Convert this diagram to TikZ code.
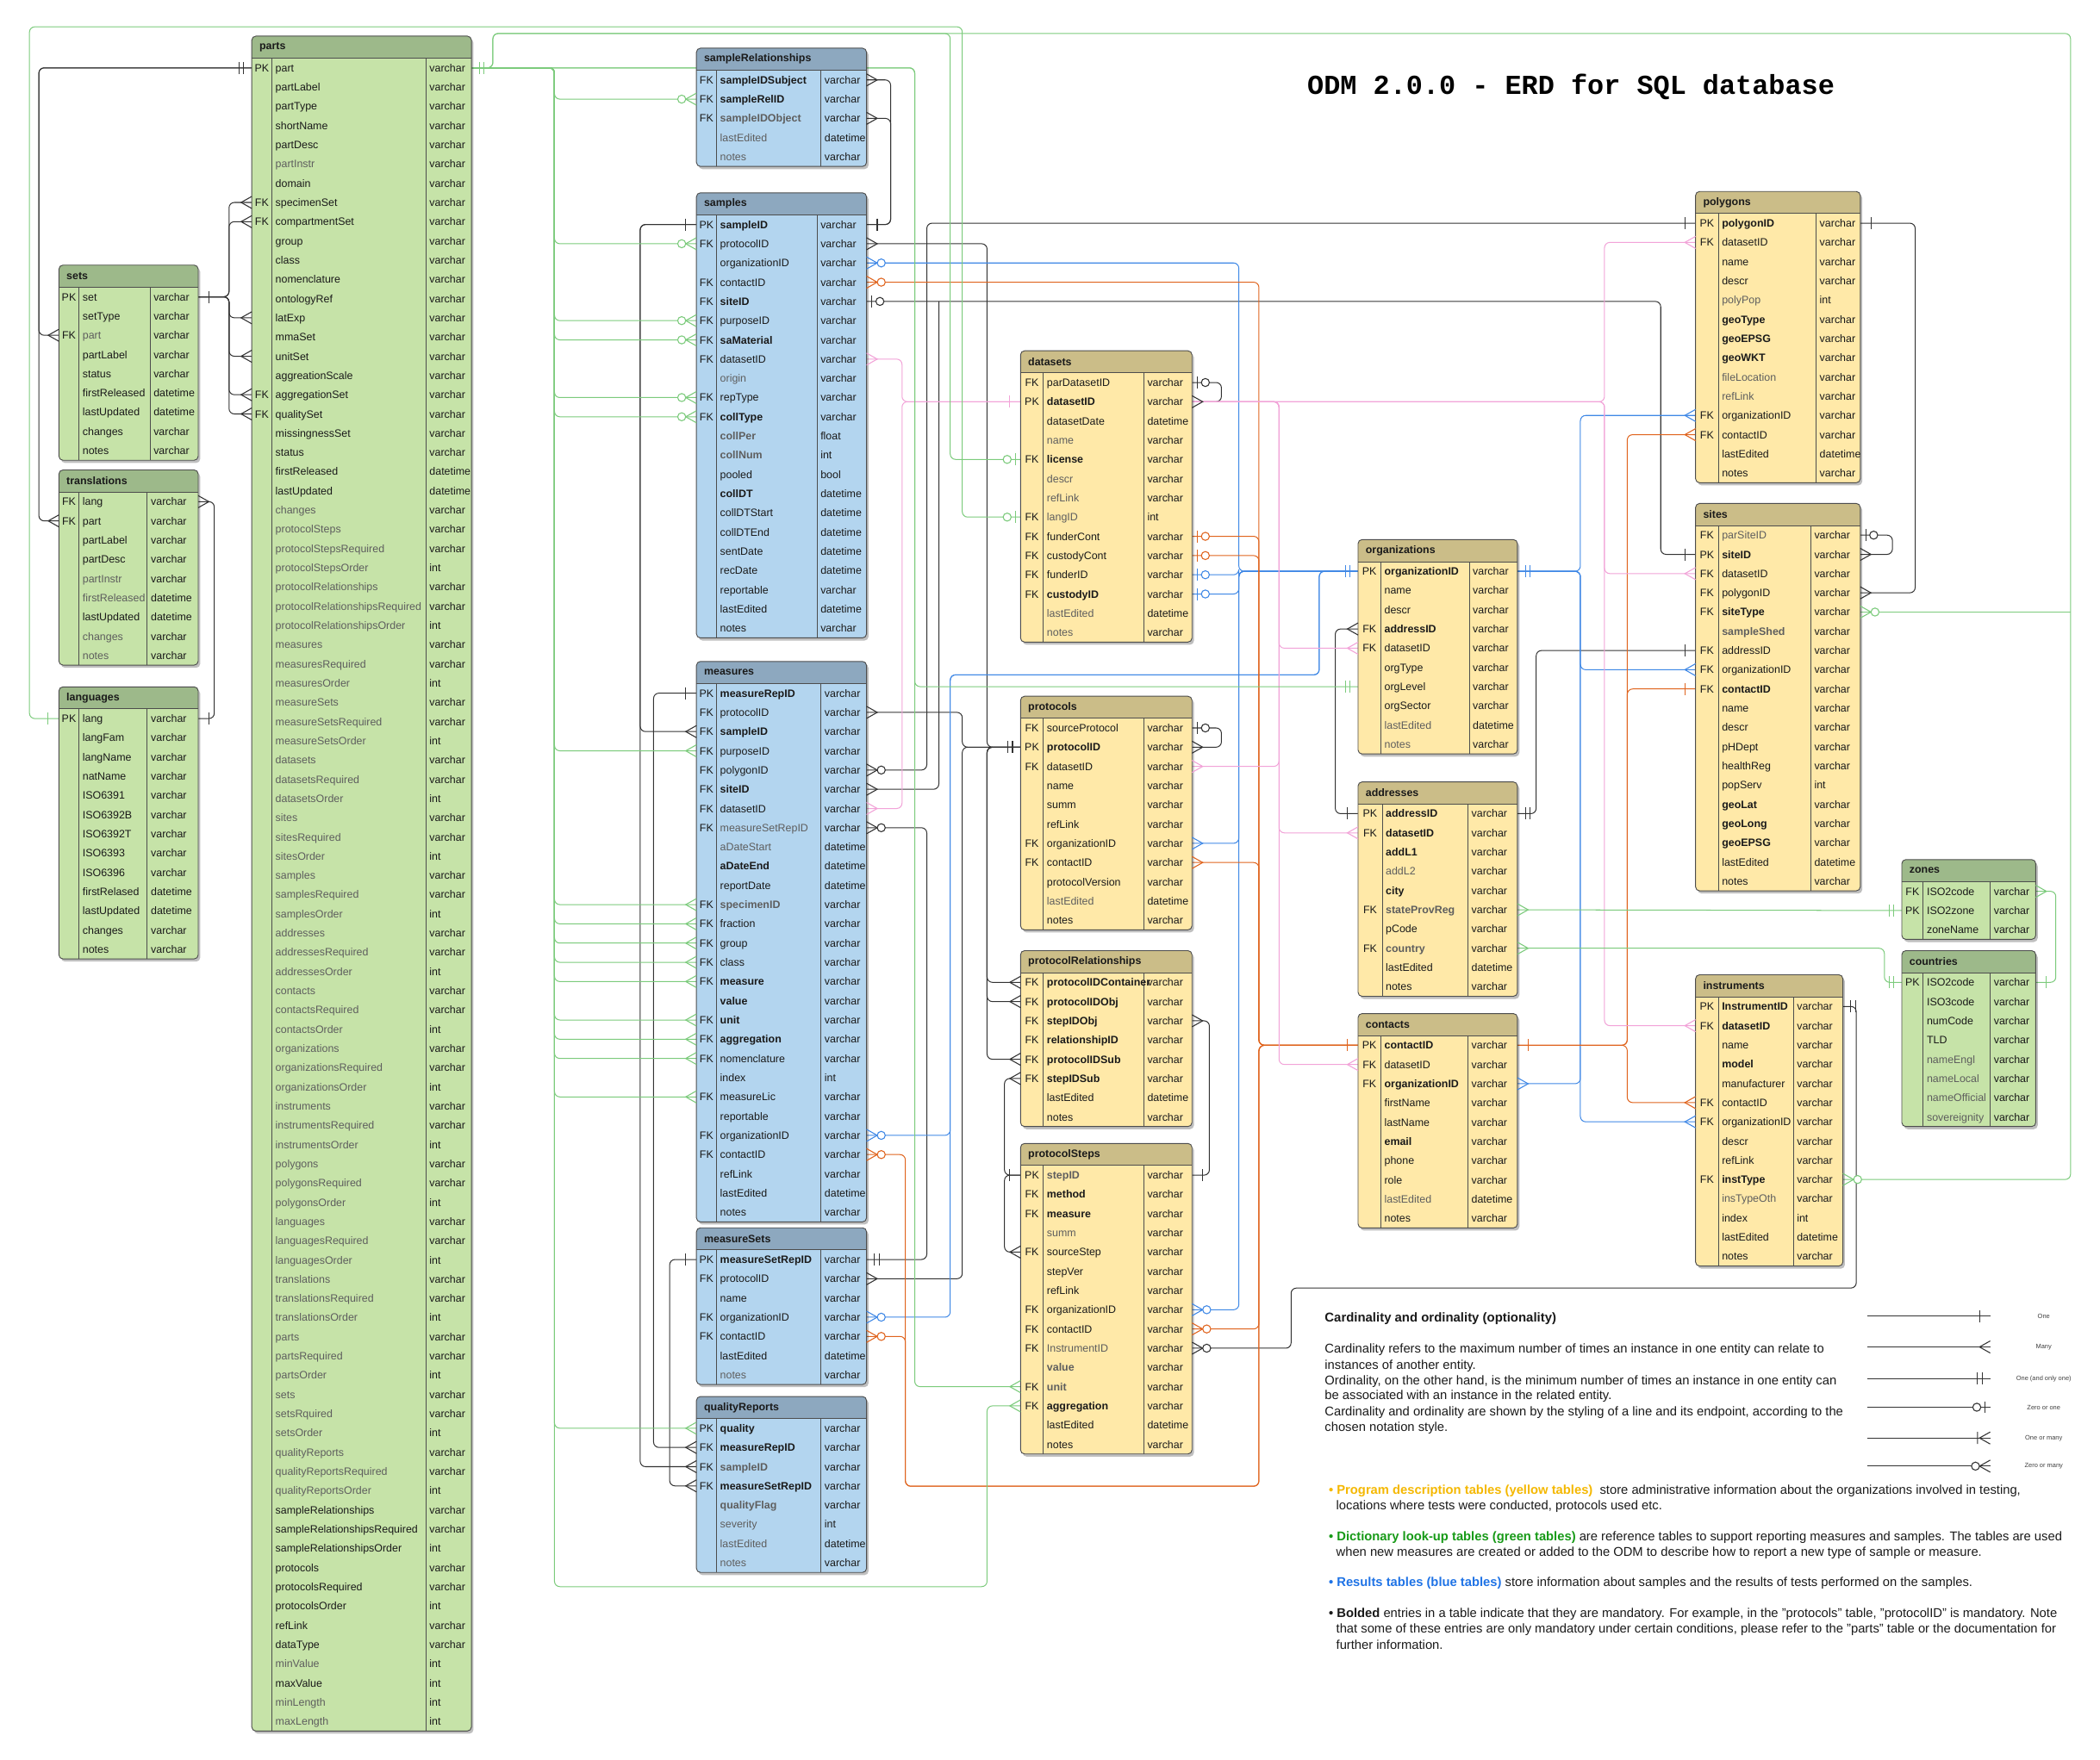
\documentclass[tikz,border=0pt]{standalone}
\usepackage{fontspec}
\setmainfont{Liberation Sans}
\newfontfamily\titlefont{Liberation Mono}
\usetikzlibrary{calc}
\pgfdeclarelayer{bg}
\pgfdeclarelayer{links}
\pgfsetlayers{bg,links,main}

% table palettes
\definecolor{gBody}{HTML}{C6E3A8}
\definecolor{gHead}{HTML}{9DB98A}
\definecolor{bBody}{HTML}{B3D5EF}
\definecolor{bHead}{HTML}{8DA8BF}
\definecolor{yBody}{HTML}{FFE9A8}
\definecolor{yHead}{HTML}{CBBD88}
\definecolor{edge}{HTML}{4D4D4D}
\definecolor{txt}{HTML}{1A1A1A}
\definecolor{txtg}{HTML}{5E5E5E}
% connector colours
\definecolor{lnGreen}{HTML}{7CCB7C}
\definecolor{lnBlue}{HTML}{3F88E6}
\definecolor{lnOrange}{HTML}{E0641E}
\definecolor{lnPink}{HTML}{F2A3D8}
\definecolor{lnBlack}{HTML}{333333}
% legend colours
\definecolor{cYel}{HTML}{F5B800}
\definecolor{cGrn}{HTML}{179A17}
\definecolor{cBlu}{HTML}{1F73E6}

\tikzset{
  rowbase/.style={anchor=base west,inner sep=0pt,font=\fontsize{8}{9}\selectfont},
  rn/.style={rowbase,text=txt},
  rb/.style={rowbase,text=txt,font=\fontsize{8}{9}\selectfont\bfseries},
  rg/.style={rowbase,text=txtg},
  rh/.style={rowbase,text=txtg,font=\fontsize{8}{9}\selectfont\bfseries},
  typtxt/.style={rowbase,text=txt},
  keytxt/.style={anchor=base,inner sep=0pt,font=\fontsize{8}{9}\selectfont,text=txt},
  hdtxt/.style={anchor=west,inner sep=0pt,font=\fontsize{8}{9}\selectfont\bfseries,text=txt},
  tline/.style={draw=edge,line width=.6pt},
  cn/.style={draw=lnBlack,line width=.65pt,rounded corners=4pt},
  cg/.style={cn,draw=lnGreen},
  cb/.style={cn,draw=lnBlue},
  co/.style={cn,draw=lnOrange},
  cp/.style={cn,draw=lnPink},
  mk/.style={line width=.7pt},
  pics/crow/.style={code={\draw[mk] (0,-4.5)--(8,0)--(0,4.5);}},
  pics/one/.style={code={\draw[mk] (8,-4.5)--(8,4.5);}},
  pics/oneonly/.style={code={\draw[mk] (6,-4.5)--(6,4.5) (9.5,-4.5)--(9.5,4.5);}},
  pics/zeromany/.style={code={\draw[mk] (0,-4.5)--(8,0)--(0,4.5); \draw[mk,fill=white] (11,0) circle[radius=3pt];}},
  pics/onemany/.style={code={\draw[mk] (0,-4.5)--(8,0)--(0,4.5) (9.5,-4.5)--(9.5,4.5);}},
  pics/zeroone/.style={code={\draw[mk] (4,-4.5)--(4,4.5); \draw[mk,fill=white] (10,0) circle[radius=3pt];}},
  lgtxt/.style={anchor=west,inner sep=0pt,font=\fontsize{9.5}{11}\selectfont,text=txt},
  lgsmall/.style={inner sep=0pt,font=\fontsize{4.8}{5}\selectfont,text=black!75},
}

\def\erdhd{16.5}
\def\erdrw{14.36}

% #1 id, #2 x, #3 y, #4 key column, #5 name column, #6 type column,
% #7 palette (g/b/y), #8 title, #9 rows key/name/type/style
\newcommand\erdtable[9]{%
  \def\erdn{0}%
  \foreach \erK/\erN/\erT/\erS [count=\erI] in {#9} {\xdef\erdn{\erI}}%
  \pgfmathsetmacro\erdw{#4+#5+#6}%
  \pgfmathsetmacro\erdh{\erdhd+\erdn*\erdrw}%
  \fill[black,opacity=.25,rounded corners=3pt] (#2+1.5,#3+2) rectangle ++(\erdw,\erdh);
  \fill[#7Body,rounded corners=3pt] (#2,#3) rectangle ++(\erdw,\erdh);
  \begin{scope}
    \clip[rounded corners=3pt] (#2,#3) rectangle ++(\erdw,\erdh);
    \fill[#7Head] (#2,#3) rectangle ++(\erdw,\erdhd);
  \end{scope}
  \draw[tline] (#2,#3+\erdhd) -- ++(\erdw,0);
  \draw[tline] (#2+#4,#3+\erdhd) -- ++(0,\erdh-\erdhd);
  \draw[tline] (#2+#4+#5,#3+\erdhd) -- ++(0,\erdh-\erdhd);
  \draw[tline,rounded corners=3pt] (#2,#3) rectangle ++(\erdw,\erdh);
  \node[hdtxt] at (#2+5.5,#3+\erdhd/2) {#8};
  \foreach \erK/\erN/\erT/\erS [count=\erI] in {#9} {
    \pgfmathsetmacro\erY{#3+\erdhd+(\erI-0.5)*\erdrw}
    \node[keytxt] at (#2+#4/2,\erY+2.9) {\erK};
    \node[\erS] at (#2+#4+2.5,\erY+2.9) {\erN};
    \node[typtxt] at (#2+#4+#5+2.5,\erY+2.9) {\erT};
    \coordinate (#1-\erI-w) at (#2,\erY);
    \coordinate (#1-\erI-e) at (#2+\erdw,\erY);
  }%
}
\newcommand\mE[3]{\pic[color=#3] at (#2) {#1};}
\newcommand\mW[3]{\pic[color=#3,xscale=-1] at (#2) {#1};}

\begin{document}
\begin{tikzpicture}[x=1pt,y=-1pt]
\begin{pgfonlayer}{bg}
  \fill[white] (0,0) rectangle (1568,1314);
\end{pgfonlayer}
\useasboundingbox (0,0) rectangle (1568,1314);

\node[font=\titlefont\bfseries\fontsize{20.5}{24}\selectfont,text=black] (title) at (1173,65) {ODM 2.0.0 - ERD for SQL database};

% ---------------- dictionary tables (green)
\erdtable{parts}{188}{27}{15}{115}{34}{g}{parts}{PK/part/varchar/rn,
/partLabel/varchar/rn,
/partType/varchar/rn,
/shortName/varchar/rn,
/partDesc/varchar/rn,
/partInstr/varchar/rg,
/domain/varchar/rn,
FK/specimenSet/varchar/rn,
FK/compartmentSet/varchar/rn,
/group/varchar/rn,
/class/varchar/rn,
/nomenclature/varchar/rn,
/ontologyRef/varchar/rn,
/latExp/varchar/rn,
/mmaSet/varchar/rn,
/unitSet/varchar/rn,
/aggreationScale/varchar/rn,
FK/aggregationSet/varchar/rn,
FK/qualitySet/varchar/rn,
/missingnessSet/varchar/rn,
/status/varchar/rn,
/firstReleased/datetime/rn,
/lastUpdated/datetime/rn,
/changes/varchar/rg,
/protocolSteps/varchar/rg,
/protocolStepsRequired/varchar/rg,
/protocolStepsOrder/int/rg,
/protocolRelationships/varchar/rg,
/protocolRelationshipsRequired/varchar/rg,
/protocolRelationshipsOrder/int/rg,
/measures/varchar/rg,
/measuresRequired/varchar/rg,
/measuresOrder/int/rg,
/measureSets/varchar/rg,
/measureSetsRequired/varchar/rg,
/measureSetsOrder/int/rg,
/datasets/varchar/rg,
/datasetsRequired/varchar/rg,
/datasetsOrder/int/rg,
/sites/varchar/rg,
/sitesRequired/varchar/rg,
/sitesOrder/int/rg,
/samples/varchar/rg,
/samplesRequired/varchar/rg,
/samplesOrder/int/rg,
/addresses/varchar/rg,
/addressesRequired/varchar/rg,
/addressesOrder/int/rg,
/contacts/varchar/rg,
/contactsRequired/varchar/rg,
/contactsOrder/int/rg,
/organizations/varchar/rg,
/organizationsRequired/varchar/rg,
/organizationsOrder/int/rg,
/instruments/varchar/rg,
/instrumentsRequired/varchar/rg,
/instrumentsOrder/int/rg,
/polygons/varchar/rg,
/polygonsRequired/varchar/rg,
/polygonsOrder/int/rg,
/languages/varchar/rg,
/languagesRequired/varchar/rg,
/languagesOrder/int/rg,
/translations/varchar/rg,
/translationsRequired/varchar/rg,
/translationsOrder/int/rg,
/parts/varchar/rg,
/partsRequired/varchar/rg,
/partsOrder/int/rg,
/sets/varchar/rg,
/setsRquired/varchar/rg,
/setsOrder/int/rg,
/qualityReports/varchar/rg,
/qualityReportsRequired/varchar/rg,
/qualityReportsOrder/int/rg,
/sampleRelationships/varchar/rn,
/sampleRelationshipsRequired/varchar/rn,
/sampleRelationshipsOrder/int/rn,
/protocols/varchar/rn,
/protocolsRequired/varchar/rn,
/protocolsOrder/int/rn,
/refLink/varchar/rn,
/dataType/varchar/rn,
/minValue/int/rg,
/maxValue/int/rn,
/minLength/int/rg,
/maxLength/int/rg}

\erdtable{sets}{44}{198}{15}{53}{36}{g}{sets}{PK/set/varchar/rn,
/setType/varchar/rn,
FK/part/varchar/rg,
/partLabel/varchar/rn,
/status/varchar/rn,
/firstReleased/datetime/rn,
/lastUpdated/datetime/rn,
/changes/varchar/rn,
/notes/varchar/rn}

\erdtable{transl}{44}{351}{15}{51}{38}{g}{translations}{FK/lang/varchar/rn,
FK/part/varchar/rn,
/partLabel/varchar/rn,
/partDesc/varchar/rn,
/partInstr/varchar/rg,
/firstReleased/datetime/rg,
/lastUpdated/datetime/rn,
/changes/varchar/rg,
/notes/varchar/rg}

\erdtable{langs}{44}{513}{15}{51}{38}{g}{languages}{PK/lang/varchar/rn,
/langFam/varchar/rn,
/langName/varchar/rn,
/natName/varchar/rn,
/ISO6391/varchar/rn,
/ISO6392B/varchar/rn,
/ISO6392T/varchar/rn,
/ISO6393/varchar/rn,
/ISO6396/varchar/rn,
/firstRelased/datetime/rn,
/lastUpdated/datetime/rn,
/changes/varchar/rn,
/notes/varchar/rn}

\erdtable{zones}{1420}{642}{16}{50}{34}{g}{zones}{FK/ISO2code/varchar/rn,
PK/ISO2zone/varchar/rn,
/zoneName/varchar/rn}

\erdtable{ctry}{1420}{710}{16}{50}{34}{g}{countries}{PK/ISO2code/varchar/rn,
/ISO3code/varchar/rn,
/numCode/varchar/rn,
/TLD/varchar/rn,
/nameEngl/varchar/rg,
/nameLocal/varchar/rg,
/nameOfficial/varchar/rg,
/sovereignity/varchar/rg}

% ---------------- results tables (blue)
\erdtable{srel}{520}{36}{15}{78}{34}{b}{sampleRelationships}{FK/sampleIDSubject/varchar/rb,
FK/sampleRelID/varchar/rb,
FK/sampleIDObject/varchar/rh,
/lastEdited/datetime/rg,
/notes/varchar/rg}

\erdtable{samples}{520}{144}{15}{75}{37}{b}{samples}{PK/sampleID/varchar/rb,
FK/protocolID/varchar/rn,
/organizationID/varchar/rn,
FK/contactID/varchar/rn,
FK/siteID/varchar/rb,
FK/purposeID/varchar/rn,
FK/saMaterial/varchar/rb,
FK/datasetID/varchar/rn,
/origin/varchar/rg,
FK/repType/varchar/rn,
FK/collType/varchar/rb,
/collPer/float/rh,
/collNum/int/rh,
/pooled/bool/rn,
/collDT/datetime/rb,
/collDTStart/datetime/rn,
/collDTEnd/datetime/rn,
/sentDate/datetime/rn,
/recDate/datetime/rn,
/reportable/varchar/rn,
/lastEdited/datetime/rn,
/notes/varchar/rn}

\erdtable{meas}{520}{494}{15}{78}{34}{b}{measures}{PK/measureRepID/varchar/rb,
FK/protocolID/varchar/rn,
FK/sampleID/varchar/rb,
FK/purposeID/varchar/rn,
FK/polygonID/varchar/rn,
FK/siteID/varchar/rb,
FK/datasetID/varchar/rn,
FK/measureSetRepID/varchar/rg,
/aDateStart/datetime/rg,
/aDateEnd/datetime/rb,
/reportDate/datetime/rn,
FK/specimenID/varchar/rh,
FK/fraction/varchar/rn,
FK/group/varchar/rn,
FK/class/varchar/rn,
FK/measure/varchar/rb,
/value/varchar/rb,
FK/unit/varchar/rb,
FK/aggregation/varchar/rb,
FK/nomenclature/varchar/rn,
/index/int/rn,
FK/measureLic/varchar/rn,
/reportable/varchar/rn,
FK/organizationID/varchar/rn,
FK/contactID/varchar/rn,
/refLink/varchar/rn,
/lastEdited/datetime/rn,
/notes/varchar/rn}

\erdtable{msets}{520}{917}{15}{78}{34}{b}{measureSets}{PK/measureSetRepID/varchar/rb,
FK/protocolID/varchar/rn,
/name/varchar/rn,
FK/organizationID/varchar/rn,
FK/contactID/varchar/rn,
/lastEdited/datetime/rn,
/notes/varchar/rg}

\erdtable{qrep}{520}{1043}{15}{78}{34}{b}{qualityReports}{PK/quality/varchar/rb,
FK/measureRepID/varchar/rb,
FK/sampleID/varchar/rh,
FK/measureSetRepID/varchar/rb,
/qualityFlag/varchar/rh,
/severity/int/rg,
/lastEdited/datetime/rg,
/notes/varchar/rg}

% ---------------- program description tables (yellow)
\erdtable{dsets}{762}{262}{17}{75}{36}{y}{datasets}{FK/parDatasetID/varchar/rn,
PK/datasetID/varchar/rb,
/datasetDate/datetime/rn,
/name/varchar/rg,
FK/license/varchar/rb,
/descr/varchar/rg,
/refLink/varchar/rg,
FK/langID/int/rg,
FK/funderCont/varchar/rn,
FK/custodyCont/varchar/rn,
FK/funderID/varchar/rn,
FK/custodyID/varchar/rb,
/lastEdited/datetime/rg,
/notes/varchar/rg}

\erdtable{prot}{762}{520}{17}{75}{36}{y}{protocols}{FK/sourceProtocol/varchar/rn,
PK/protocolID/varchar/rb,
FK/datasetID/varchar/rn,
/name/varchar/rn,
/summ/varchar/rn,
/refLink/varchar/rn,
FK/organizationID/varchar/rn,
FK/contactID/varchar/rn,
/protocolVersion/varchar/rn,
/lastEdited/datetime/rg,
/notes/varchar/rn}

\erdtable{prel}{762}{710}{17}{75}{36}{y}{protocolRelationships}{FK/protocolIDContainer/varchar/rb,
FK/protocolIDObj/varchar/rb,
FK/stepIDObj/varchar/rb,
FK/relationshipID/varchar/rb,
FK/protocolIDSub/varchar/rb,
FK/stepIDSub/varchar/rb,
/lastEdited/datetime/rn,
/notes/varchar/rn}

\erdtable{psteps}{762}{854}{17}{75}{36}{y}{protocolSteps}{PK/stepID/varchar/rh,
FK/method/varchar/rb,
FK/measure/varchar/rb,
/summ/varchar/rg,
FK/sourceStep/varchar/rn,
/stepVer/varchar/rn,
/refLink/varchar/rn,
FK/organizationID/varchar/rn,
FK/contactID/varchar/rn,
FK/InstrumentID/varchar/rg,
/value/varchar/rh,
FK/unit/varchar/rh,
FK/aggregation/varchar/rb,
/lastEdited/datetime/rn,
/notes/varchar/rn}

\erdtable{orgs}{1014}{403}{17}{66}{36}{y}{organizations}{PK/organizationID/varchar/rb,
/name/varchar/rn,
/descr/varchar/rn,
FK/addressID/varchar/rb,
FK/datasetID/varchar/rn,
/orgType/varchar/rn,
/orgLevel/varchar/rn,
/orgSector/varchar/rn,
/lastEdited/datetime/rg,
/notes/varchar/rg}

\erdtable{addr}{1014}{584}{18}{64}{37}{y}{addresses}{PK/addressID/varchar/rb,
FK/datasetID/varchar/rb,
/addL1/varchar/rb,
/addL2/varchar/rg,
/city/varchar/rb,
FK/stateProvReg/varchar/rh,
/pCode/varchar/rn,
FK/country/varchar/rh,
/lastEdited/datetime/rn,
/notes/varchar/rn}

\erdtable{cont}{1014}{757}{17}{65}{37}{y}{contacts}{PK/contactID/varchar/rb,
FK/datasetID/varchar/rn,
FK/organizationID/varchar/rb,
/firstName/varchar/rn,
/lastName/varchar/rn,
/email/varchar/rb,
/phone/varchar/rn,
/role/varchar/rn,
/lastEdited/datetime/rg,
/notes/varchar/rn}

\erdtable{poly}{1266}{143}{17}{73}{33}{y}{polygons}{PK/polygonID/varchar/rb,
FK/datasetID/varchar/rn,
/name/varchar/rn,
/descr/varchar/rn,
/polyPop/int/rg,
/geoType/varchar/rb,
/geoEPSG/varchar/rb,
/geoWKT/varchar/rb,
/fileLocation/varchar/rg,
/refLink/varchar/rg,
FK/organizationID/varchar/rn,
FK/contactID/varchar/rn,
/lastEdited/datetime/rn,
/notes/varchar/rn}

\erdtable{sites}{1266}{376}{17}{69}{37}{y}{sites}{FK/parSiteID/varchar/rg,
PK/siteID/varchar/rb,
FK/datasetID/varchar/rn,
FK/polygonID/varchar/rn,
FK/siteType/varchar/rb,
/sampleShed/varchar/rh,
FK/addressID/varchar/rn,
FK/organizationID/varchar/rn,
FK/contactID/varchar/rb,
/name/varchar/rn,
/descr/varchar/rn,
/pHDept/varchar/rn,
/healthReg/varchar/rn,
/popServ/int/rn,
/geoLat/varchar/rb,
/geoLong/varchar/rb,
/geoEPSG/varchar/rb,
/lastEdited/datetime/rn,
/notes/varchar/rn}

\erdtable{inst}{1266}{728}{17}{56}{37}{y}{instruments}{PK/InstrumentID/varchar/rb,
FK/datasetID/varchar/rb,
/name/varchar/rn,
/model/varchar/rb,
/manufacturer/varchar/rn,
FK/contactID/varchar/rn,
FK/organizationID/varchar/rn,
/descr/varchar/rn,
/refLink/varchar/rn,
FK/instType/varchar/rb,
/insTypeOth/varchar/rg,
/index/int/rn,
/lastEdited/datetime/rn,
/notes/varchar/rn}

% ---------------- routing lanes
\coordinate (xL0) at (22,0);
\coordinate (xL1) at (29,0);
\coordinate (xT) at (160,0);
\coordinate (xS) at (171,0);
\coordinate (xGa) at (368,0);
\coordinate (xG) at (414,0);
\coordinate (xSL) at (478,0);
\coordinate (xML) at (488,0);
\coordinate (xMSL) at (500,0);
\coordinate (xSR) at (665,0);
\coordinate (xPK) at (673.5,0);
\coordinate (xOR) at (676,0);
\coordinate (xGP) at (683,0);
\coordinate (xPoly) at (692,0);
\coordinate (xMS) at (692,0);
\coordinate (xSiteM) at (701,0);
\coordinate (xLic) at (709.5,0);
\coordinate (xBL) at (709.5,0);
\coordinate (xLang) at (718.5,0);
\coordinate (xPB2) at (718.5,0);
\coordinate (xPB) at (737,0);
\coordinate (xGL) at (737,0);
\coordinate (xStW) at (750,0);
\coordinate (xStE) at (903,0);
\coordinate (xSelf) at (912,0);
\coordinate (xBR) at (925,0);
\coordinate (xOR2) at (940,0);
\coordinate (xPK2) at (955,0);
\coordinate (xInst) at (964,0);
\coordinate (xOrgIn) at (985,0);
\coordinate (xAddrW) at (997,0);
\coordinate (xAddrE) at (1147,0);
\coordinate (xBR2) at (1180,0);
\coordinate (xPK3) at (1198,0);
\coordinate (xOR3) at (1215,0);
\coordinate (xSiteW) at (1240,0);
\coordinate (xInstE) at (1386,0);
\coordinate (xCty) at (1407,0);
\coordinate (xSS) at (1413,0);
\coordinate (xPolyE) at (1430,0);
\coordinate (xZC) at (1535,0);
\coordinate (xGR) at (1546,0);
\coordinate (yL0) at (0,20);
\coordinate (yG) at (0,25);
\coordinate (yBot) at (0,1185);
\coordinate (yOb) at (0,1110);
\coordinate (yBl) at (0,504);
\coordinate (yI) at (0,962);

% ---------------- relationships
\begin{pgfonlayer}{links}
  % parts and its dictionaries
  \draw[cn] (parts-1-w) -- (parts-1-w -| xL1) |- (sets-3-w);
  \draw[cn] (parts-1-w) -- (parts-1-w -| xL1) |- (transl-2-w);
  \foreach \rr in {8,9,14,16,18,19} \draw[cn] (sets-1-e) -- (sets-1-e -| xS) |- (parts-\rr-w);
  \draw[cn] (transl-1-e) -- (transl-1-e -| xT) |- (langs-1-e);
  % samples and measures
  \foreach \rr in {1,3} \draw[cn] (samples-1-e) -- (samples-1-e -| xSR) |- (srel-\rr-e);
  \draw[cn] (samples-1-w) -- (samples-1-w -| xSL) |- (meas-3-w);
  \draw[cn] (samples-1-w) -- (samples-1-w -| xSL) |- (qrep-3-w);
  \draw[cn] (meas-1-w) -- (meas-1-w -| xML) |- (qrep-2-w);
  \draw[cn] (msets-1-w) -- (msets-1-w -| xMSL) |- (qrep-4-w);
  \draw[cn] (msets-1-e) -- (msets-1-e -| xMS) |- (meas-8-e);
  % protocols
  \draw[cn] (prot-2-w) -- (prot-2-w -| xPB) |- (samples-2-e);
  \foreach \tg in {meas-2,msets-2} \draw[cn] (prot-2-w) -- (prot-2-w -| xPB2) |- (\tg-e);
  \foreach \rr in {1,2,5} \draw[cn] (prot-2-w) -- (prot-2-w -| xPB) |- (prel-\rr-w);
  \draw[cn] (psteps-1-w) -- (psteps-1-w -| xStW) |- (prel-6-w);
  \draw[cn] (psteps-1-w) -- (psteps-1-w -| xStW) |- (psteps-5-w);
  \draw[cn] (psteps-1-e) -- (psteps-1-e -| xStE) |- (prel-3-e);
  % self references
  \draw[cn] (dsets-1-e) -- (dsets-1-e -| xSelf) |- (dsets-2-e);
  \draw[cn] (prot-1-e) -- (prot-1-e -| xSelf) |- (prot-2-e);
  \draw[cn] (sites-1-e) -- (sites-1-e -| xSS) |- (sites-2-e);
  % polygons, sites, addresses, instruments
  \draw[cn] (poly-1-w) -- (poly-1-w -| xPoly) |- (meas-5-e);
  \draw[cn] (poly-1-e) -- (poly-1-e -| xPolyE) |- (sites-4-e);
  \draw[cn] (sites-2-w) -- (sites-2-w -| xSiteW) |- (samples-5-e);
  \draw[cn] (meas-6-e) -- (meas-6-e -| xSiteM) -- (xSiteM |- samples-5-e);
  \draw[cn] (addr-1-e) -- (addr-1-e -| xAddrE) |- (sites-7-w);
  \draw[cn] (addr-1-w) -- (addr-1-w -| xAddrW) |- (orgs-4-w);
  \draw[cn] (inst-1-e) -- (inst-1-e -| xInstE) -- (xInstE |- yI) -- (xInst |- yI) |- (psteps-10-e);
  % organizationID
  \foreach \tg in {meas-24,msets-4}
    \draw[cb] (orgs-1-w) -- (orgs-1-w -| xOrgIn) -- (xOrgIn |- yBl) -- (xBL |- yBl) |- (\tg-e);
  \foreach \tg in {samples-3,dsets-11,dsets-12,prot-7,psteps-8} \draw[cb] (orgs-1-w) -- (orgs-1-w -| xBR) |- (\tg-e);
  \foreach \tg in {poly-11,sites-8,inst-7} \draw[cb] (orgs-1-e) -- (orgs-1-e -| xBR2) |- (\tg-w);
  \draw[cb] (orgs-1-e) -- (orgs-1-e -| xBR2) |- (cont-3-e);
  % contactID
  \foreach \tg in {samples-4,dsets-9,dsets-10,prot-8,psteps-9} \draw[co] (cont-1-w) -- (cont-1-w -| xOR2) |- (\tg-e);
  \foreach \tg in {meas-25,msets-5}
    \draw[co] (cont-1-w) -- (cont-1-w -| xOR2) -- (xOR2 |- yOb) -- (xOR |- yOb) |- (\tg-e);
  \foreach \tg in {poly-12,sites-9,inst-6} \draw[co] (cont-1-e) -- (cont-1-e -| xOR3) |- (\tg-w);
  % datasetID
  \foreach \tg in {samples-8,meas-7} \draw[cp] (dsets-2-w) -- (dsets-2-w -| xPK) |- (\tg-e);
  \foreach \tg in {orgs-5,addr-2,cont-2} \draw[cp] (dsets-2-e) -- (dsets-2-e -| xPK2) |- (\tg-w);
  \draw[cp] (dsets-2-e) -- (dsets-2-e -| xPK2) |- (prot-3-e);
  \foreach \tg in {poly-2,sites-3,inst-2} \draw[cp] (dsets-2-e) -- (dsets-2-e -| xPK3) |- (\tg-w);
  % parts references (green)
  \draw[cg] (langs-1-w) -- (langs-1-w -| xL0) -- (xL0 |- yL0) -- (xLang |- yL0) |- (dsets-8-w);
  \draw[cg] (parts-1-e) -- (parts-1-e -| xGa) -- (xGa |- yG) -- (xGR |- yG) |- (inst-10-e);
  \draw[cg] (parts-1-e) -- (parts-1-e -| xGa) -- (xGa |- yG) -- (xLic |- yG) |- (dsets-5-w);
  \draw[cg] (sites-5-e) -- (sites-5-e -| xGR);
  \foreach \tg in {psteps-12,orgs-7} \draw[cg] (parts-1-e) -- (parts-1-e -| xGP) |- (\tg-w);
  \draw[cg] (parts-1-e) -- (parts-1-e -| xG) -- (xG |- yBot) -- (xGL |- yBot) |- (psteps-13-w);
  \foreach \tg in {srel-2,samples-2,samples-6,samples-7,samples-10,samples-11,meas-4,meas-12,meas-13,meas-14,meas-15,meas-16,meas-18,meas-19,meas-20,meas-22,qrep-1}
    \draw[cg] (parts-1-e) -- (parts-1-e -| xG) |- (\tg-w);
  \draw[cg] (addr-6-e) -- (zones-2-w);
  \draw[cg] (addr-8-e) -- (addr-8-e -| xCty) |- (ctry-1-w);
  \draw[cg] (zones-1-e) -- (zones-1-e -| xZC) |- (ctry-1-e);
\end{pgfonlayer}

% ---------------- line ends
\mW{oneonly}{parts-1-w}{lnBlack}
\mW{crow}{sets-3-w}{lnBlack}
\mW{crow}{transl-2-w}{lnBlack}
\mE{one}{sets-1-e}{lnBlack}
\foreach \rr in {8,9,14,16,18,19} {\mW{crow}{parts-\rr-w}{lnBlack}}
\mE{crow}{transl-1-e}{lnBlack}
\mE{one}{langs-1-e}{lnBlack}
\mE{one}{samples-1-e}{lnBlack}
\mE{crow}{srel-1-e}{lnBlack}
\mE{crow}{srel-3-e}{lnBlack}
\mW{one}{samples-1-w}{lnBlack}
\mW{crow}{meas-3-w}{lnBlack}
\mW{crow}{qrep-3-w}{lnBlack}
\mW{one}{meas-1-w}{lnBlack}
\mW{crow}{qrep-2-w}{lnBlack}
\mW{one}{msets-1-w}{lnBlack}
\mW{crow}{qrep-4-w}{lnBlack}
\mE{oneonly}{msets-1-e}{lnBlack}
\mE{zeromany}{meas-8-e}{lnBlack}
\mW{oneonly}{prot-2-w}{lnBlack}
\foreach \tg in {samples-2,meas-2,msets-2} {\mE{crow}{\tg-e}{lnBlack}}
\foreach \rr in {1,2,5,6} {\mW{crow}{prel-\rr-w}{lnBlack}}
\mW{one}{psteps-1-w}{lnBlack}
\mW{crow}{psteps-5-w}{lnBlack}
\mE{one}{psteps-1-e}{lnBlack}
\mE{crow}{prel-3-e}{lnBlack}
\mE{zeroone}{dsets-1-e}{lnBlack}
\mE{crow}{dsets-2-e}{lnBlack}
\mE{zeroone}{prot-1-e}{lnBlack}
\mE{crow}{prot-2-e}{lnBlack}
\mE{zeroone}{sites-1-e}{lnBlack}
\mE{crow}{sites-2-e}{lnBlack}
\mW{one}{poly-1-w}{lnBlack}
\mE{zeromany}{meas-5-e}{lnBlack}
\mE{one}{poly-1-e}{lnBlack}
\mE{crow}{sites-4-e}{lnBlack}
\mW{one}{sites-2-w}{lnBlack}
\mE{zeroone}{samples-5-e}{lnBlack}
\mE{crow}{meas-6-e}{lnBlack}
\mE{oneonly}{addr-1-e}{lnBlack}
\mW{one}{sites-7-w}{lnBlack}
\mW{one}{addr-1-w}{lnBlack}
\mW{crow}{orgs-4-w}{lnBlack}
\mE{oneonly}{inst-1-e}{lnBlack}
\mE{zeromany}{psteps-10-e}{lnBlack}
% organizationID ends
\mW{oneonly}{orgs-1-w}{lnBlue}
\mE{oneonly}{orgs-1-e}{lnBlue}
\foreach \tg in {samples-3,meas-24,msets-4,psteps-8} {\mE{zeromany}{\tg-e}{lnBlue}}
\foreach \tg in {dsets-11,dsets-12} {\mE{zeroone}{\tg-e}{lnBlue}}
\mE{crow}{prot-7-e}{lnBlue}
\mE{crow}{cont-3-e}{lnBlue}
\foreach \tg in {poly-11,sites-8,inst-7} {\mW{crow}{\tg-w}{lnBlue}}
% contactID ends
\mW{one}{cont-1-w}{lnOrange}
\mE{one}{cont-1-e}{lnOrange}
\foreach \tg in {samples-4,meas-25,msets-5,psteps-9} {\mE{zeromany}{\tg-e}{lnOrange}}
\foreach \tg in {dsets-9,dsets-10} {\mE{zeroone}{\tg-e}{lnOrange}}
\mE{crow}{prot-8-e}{lnOrange}
\mW{crow}{poly-12-w}{lnOrange}
\mW{one}{sites-9-w}{lnOrange}
\mW{crow}{inst-6-w}{lnOrange}
% datasetID ends
\mW{one}{dsets-2-w}{lnPink}
\foreach \tg in {samples-8,meas-7,prot-3} {\mE{crow}{\tg-e}{lnPink}}
\foreach \tg in {orgs-5,addr-2,cont-2,poly-2,sites-3,inst-2} {\mW{crow}{\tg-w}{lnPink}}
% dictionary ends
\mW{one}{langs-1-w}{lnGreen}
\mW{zeroone}{dsets-8-w}{lnGreen}
\mW{zeroone}{dsets-5-w}{lnGreen}
\mE{oneonly}{parts-1-e}{lnGreen}
\mE{zeromany}{inst-10-e}{lnGreen}
\mE{zeromany}{sites-5-e}{lnGreen}
\mW{crow}{psteps-12-w}{lnGreen}
\mW{crow}{psteps-13-w}{lnGreen}
\mW{oneonly}{orgs-7-w}{lnGreen}
\foreach \tg in {srel-2,samples-2,samples-6,samples-7,samples-10,samples-11} {\mW{zeromany}{\tg-w}{lnGreen}}
\foreach \tg in {meas-4,meas-12,meas-13,meas-14,meas-15,meas-16,meas-18,meas-19,meas-20,meas-22,qrep-1} {\mW{crow}{\tg-w}{lnGreen}}
\mE{crow}{addr-6-e}{lnGreen}
\mW{oneonly}{zones-2-w}{lnGreen}
\mE{crow}{addr-8-e}{lnGreen}
\mW{oneonly}{ctry-1-w}{lnGreen}
\mE{crow}{zones-1-e}{lnGreen}
\mE{one}{ctry-1-e}{lnGreen}

% ---------------- notation key
\coordinate (lgA1) at (1394,983);    \coordinate (lgB1) at (1486,983);
\coordinate (lgA2) at (1394,1006);   \coordinate (lgB2) at (1486,1006);
\coordinate (lgA3) at (1394,1029.5); \coordinate (lgB3) at (1486,1029.5);
\coordinate (lgA4) at (1394,1051);   \coordinate (lgB4) at (1486,1051);
\coordinate (lgA5) at (1394,1074);   \coordinate (lgB5) at (1486,1074);
\coordinate (lgA6) at (1394,1095);   \coordinate (lgB6) at (1486,1095);
\foreach \rr in {1,...,6} \draw[cn] (lgA\rr) -- (lgB\rr);
\mW{one}{lgB1}{lnBlack}
\mW{crow}{lgB2}{lnBlack}
\mW{oneonly}{lgB3}{lnBlack}
\mW{zeroone}{lgB4}{lnBlack}
\mW{onemany}{lgB5}{lnBlack}
\mW{zeromany}{lgB6}{lnBlack}
\node[lgsmall] (lgL1) at (1526,983) {One};
\node[lgsmall] (lgL2) at (1526,1006) {Many};
\node[lgsmall] (lgL3) at (1526,1029.5) {One (and only one)};
\node[lgsmall] (lgL4) at (1526,1051) {Zero or one};
\node[lgsmall] (lgL5) at (1526,1074) {One or many};
\node[lgsmall] (lgL6) at (1526,1095) {Zero or many};

% ---------------- explanatory text
\node[lgtxt,font=\fontsize{9.6}{11}\selectfont\bfseries] (lgHead) at (989,985) {Cardinality and ordinality (optionality)};
\node[lgtxt] (p1) at (989,1008) {Cardinality refers to the maximum number of times an instance in one entity can relate to};
\node[lgtxt] (p2) at (989,1020) {instances of another entity.};
\node[lgtxt] (p3) at (989,1031.5) {Ordinality, on the other hand, is the minimum number of times an instance in one entity can};
\node[lgtxt] (p4) at (989,1043) {be associated with an instance in the related entity.};
\node[lgtxt] (p5) at (989,1055) {Cardinality and ordinality are shown by the styling of a line and its endpoint, according to the};
\node[lgtxt] (p6) at (989,1066.5) {chosen notation style.};

\node[lgtxt] (b1) at (992,1113.6) {\textcolor{cYel}{\bfseries • Program description tables (yellow tables)}\ \ store administrative information about the organizations involved in testing,};
\node[lgtxt] (b1b) at (997.5,1125.2) {locations where tests were conducted, protocols used etc.};
\node[lgtxt] (b2) at (992,1148) {\textcolor{cGrn}{\bfseries • Dictionary look-up tables (green tables)} are reference tables to support reporting measures and samples. The tables are used};
\node[lgtxt] (b2b) at (997.5,1159.6) {when new measures are created or added to the ODM to describe how to report a new type of sample or measure.};
\node[lgtxt] (b3) at (992,1182.6) {\textcolor{cBlu}{\bfseries • Results tables (blue tables)} store information about samples and the results of tests performed on the samples.};
\node[lgtxt] (b4) at (992,1205.6) {{\bfseries • Bolded} entries in a table indicate that they are mandatory. For example, in the "protocols" table, "protocolID" is mandatory. Note};
\node[lgtxt] (b4b) at (997.5,1217) {that some of these entries are only mandatory under certain conditions, please refer to the "parts" table or the documentation for};
\node[lgtxt] (b4c) at (997.5,1228.5) {further information.};
\end{tikzpicture}
\end{document}
